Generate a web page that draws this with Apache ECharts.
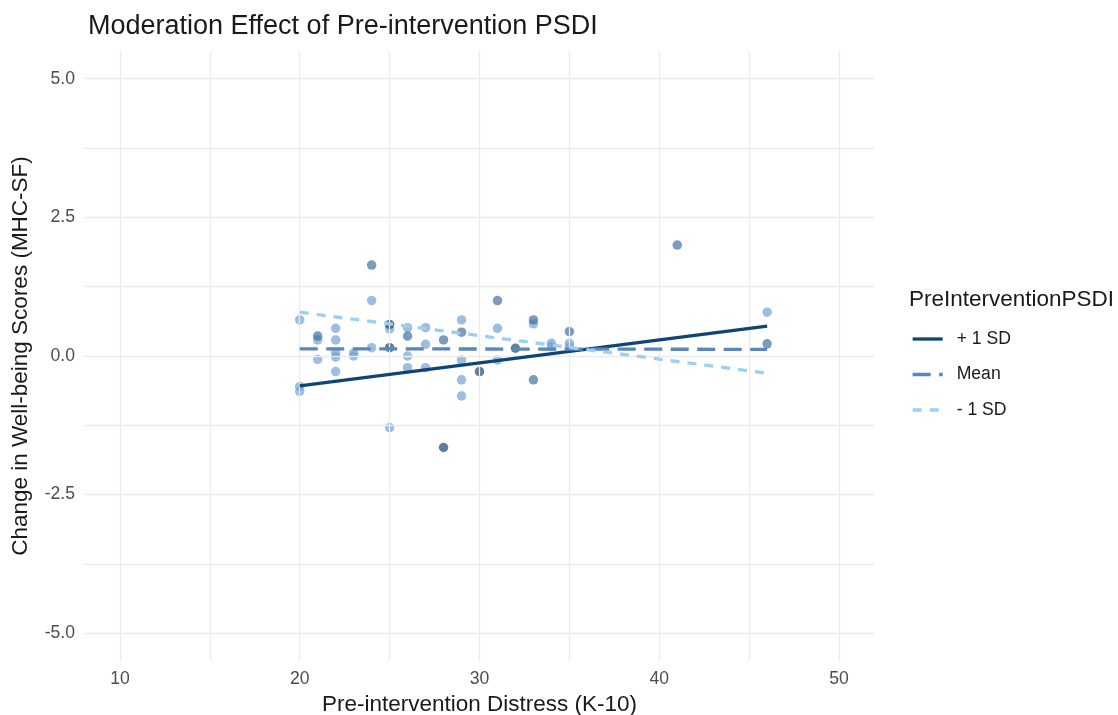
<!DOCTYPE html>
<html>
<head>
<meta charset="utf-8">
<script src="https://cdn.jsdelivr.net/npm/echarts@6/dist/echarts.min.js"></script>
<style>
html,body{margin:0;padding:0;background:#fff;}
#chart{width:1118px;height:715px;}
</style>
</head>
<body>
<div id="chart"></div>
<script>
// ---- Data ----
const xTicks = [10, 20, 30, 40, 50];
const xMinor = [15, 25, 35, 45];
const yTicks = [-5, -2.5, 0, 2.5, 5];
const yMinor = [-3.75, -1.25, 1.25, 3.75];

// scatter points, split by shade (dark / medium / light)
const pointsDark = [[25,0.57],[25,0.15],[30,-0.28],[32,0.14],[28,-1.65]];
const pointsMedium = [[24,1.64],[41,2.0],[31,1.0],[33,-0.43],[33,0.65],[35,0.44],[46,0.22],
  [26,0.36],[29,0.43],[21,0.36],[28,0.29]];
const pointsLight = [[20,0.65],[20,-0.55],[20,-0.64],[21,0.29],[21,-0.06],[22,0.5],[22,0.29],
  [22,0.05],[22,-0.02],[22,-0.28],[23,0.05],[23,0.0],[24,1.0],[24,0.15],[25,0.49],[25,-1.29],
  [26,0.51],[26,0.0],[26,-0.21],[27,0.51],[27,0.21],[27,-0.21],[29,0.65],[29,-0.07],
  [29,-0.43],[29,-0.72],[31,0.5],[31,-0.07],[33,0.58],[34,0.23],[34,0.17],[35,0.23],
  [35,0.16],[46,0.79]];

// simple slopes lines
const lineNames = ['+ 1 SD', 'Mean', '- 1 SD'];
const linePlus = [[20,-0.54],[46,0.54]];
const lineMean = [[20,0.13],[46,0.12]];
const lineMinus = [[20,0.79],[46,-0.31]];

const FONT = 'Liberation Sans, Arial, sans-serif';
const GRID = '#ebebeb';

const chart = echarts.init(document.getElementById('chart'), null, {renderer:'canvas'});

function gridLines() {
  const d = [];
  xTicks.concat(xMinor).forEach(v => d.push({xAxis: v}));
  yTicks.concat(yMinor).forEach(v => d.push({yAxis: v}));
  return d;
}

const option = {
  backgroundColor: '#ffffff',
  animation: false,
  title: [
    {text: 'Moderation Effect of Pre-intervention PSDI', left: 83, top: 8,
     textStyle: {fontFamily: FONT, fontSize: 27, fontWeight: 'normal', color: '#1a1a1a'}},
    {text: 'PreInterventionPSDI', left: 904, top: 283,
     textStyle: {fontFamily: FONT, fontSize: 22.5, fontWeight: 'normal', color: '#1a1a1a'}}
  ],
  legend: {
    data: lineNames,
    orient: 'vertical',
    left: 906, top: 325,
    itemWidth: 30, itemHeight: 18, itemGap: 17.5,
    itemStyle: {opacity: 0},
    lineStyle: {width: 3.3},
    textStyle: {fontFamily: FONT, fontSize: 17.6, color: '#1a1a1a', padding: [0, 0, 0, 9]},
    selectedMode: false
  },
  grid: {left: 84, right: 243, top: 51, bottom: 54, containLabel: false, outerBoundsMode: 'none'},
  xAxis: {
    type: 'value', min: 8, max: 52,
    name: 'Pre-intervention Distress (K-10)', nameLocation: 'middle', nameGap: 32,
    nameTextStyle: {fontFamily: FONT, fontSize: 22.5, color: '#1a1a1a'},
    axisLine: {show: false}, axisTick: {show: false, customValues: xTicks},
    splitLine: {show: false},
    axisLabel: {customValues: xTicks, fontFamily: FONT, fontSize: 17.6, color: '#4d4d4d', margin: 9,
      formatter: v => String(v)}
  },
  yAxis: {
    type: 'value', min: -5.5, max: 5.5,
    name: 'Change in Well-being Scores (MHC-SF)', nameLocation: 'middle', nameGap: 52,
    nameRotate: 90,
    nameTextStyle: {fontFamily: FONT, fontSize: 22.5, color: '#1a1a1a'},
    axisLine: {show: false}, axisTick: {show: false, customValues: yTicks},
    splitLine: {show: false},
    axisLabel: {customValues: yTicks, fontFamily: FONT, fontSize: 17.6, color: '#4d4d4d', margin: 9,
      formatter: v => v.toFixed(1)}
  },
  series: [
    {type: 'line', data: [], silent: true, z: 0,
     markLine: {silent: true, symbol: ['none','none'], label: {show: false},
       lineStyle: {color: GRID, width: 1.3, type: 'solid'}, animation: false, data: gridLines()}},
    {name: 'pts-light', type: 'scatter', data: pointsLight, symbolSize: 9.5, z: 2,
     itemStyle: {color: '#6f9fd2', opacity: 0.68}},
    {name: 'pts-medium', type: 'scatter', data: pointsMedium, symbolSize: 9.5, z: 2,
     itemStyle: {color: '#3d6d9e', opacity: 0.68}},
    {name: 'pts-dark', type: 'scatter', data: pointsDark, symbolSize: 9.5, z: 2,
     itemStyle: {color: '#163f66', opacity: 0.68}},
    {name: lineNames[0], type: 'line', data: linePlus, symbol: 'none', z: 5,
     lineStyle: {color: '#0d4675', width: 3.3, type: 'solid'}, itemStyle: {color: '#0d4675'}},
    {name: lineNames[1], type: 'line', data: lineMean, symbol: 'none', z: 5,
     lineStyle: {color: '#5a86b9', width: 3.3, type: [18, 8.5]}, itemStyle: {color: '#5a86b9'}},
    {name: lineNames[2], type: 'line', data: lineMinus, symbol: 'none', z: 5,
     lineStyle: {color: '#9dcff3', width: 3.3, type: [9, 8]}, itemStyle: {color: '#9dcff3'}}
  ]
};
chart.setOption(option);
</script>
</body>
</html>
